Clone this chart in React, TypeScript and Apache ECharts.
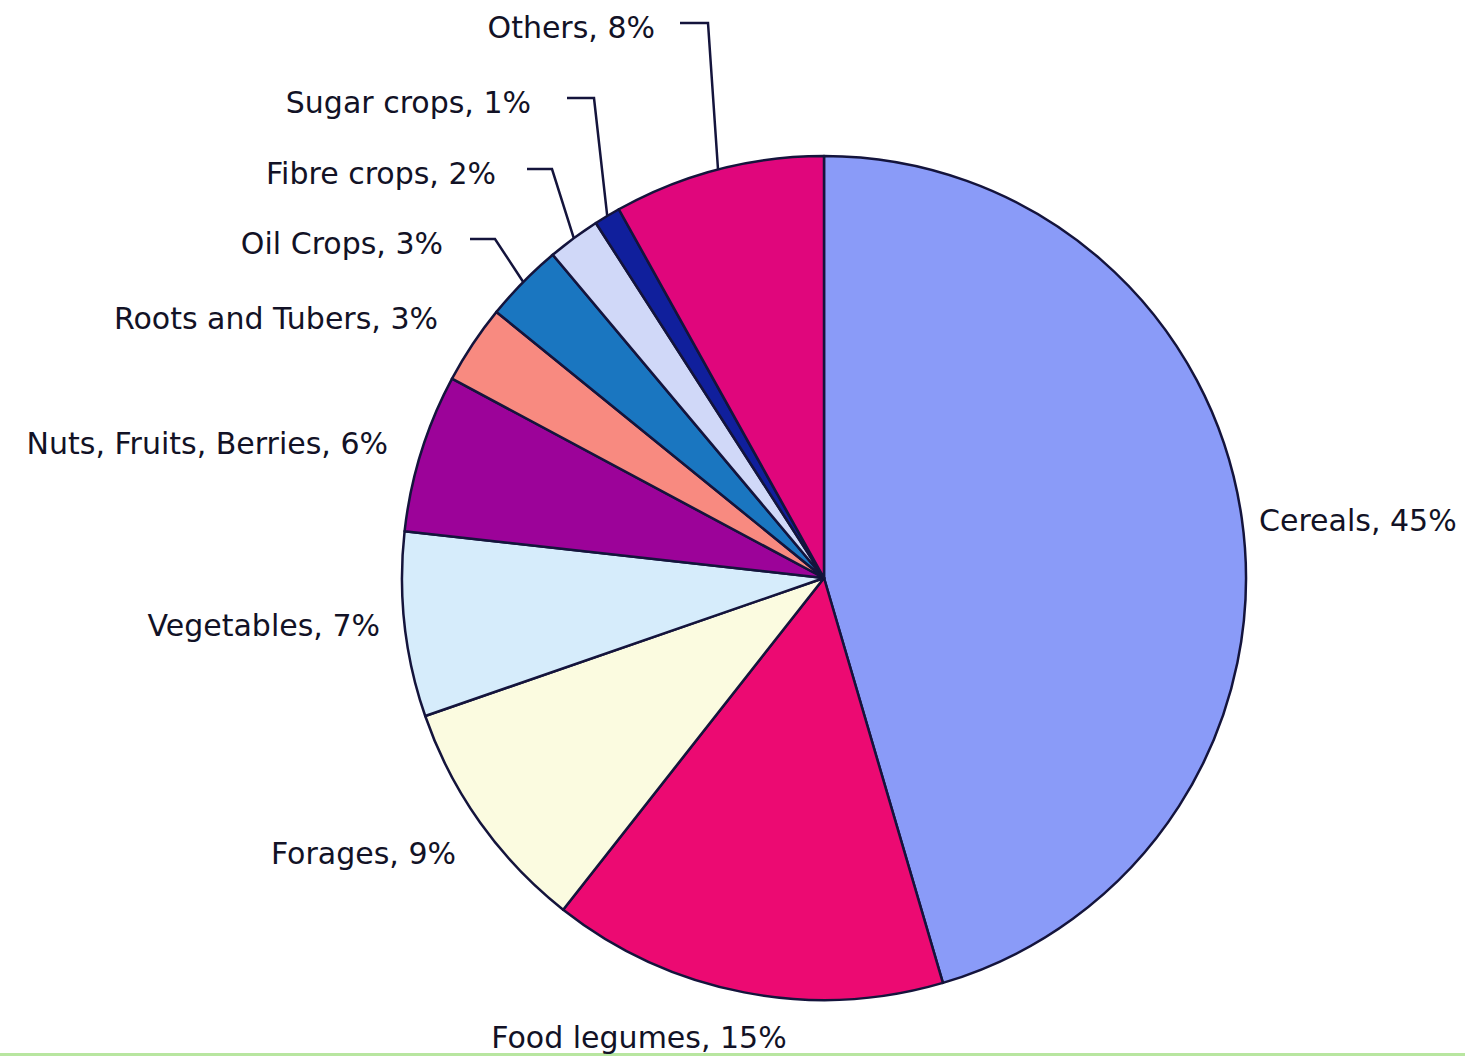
import React, { useEffect, useRef } from "react";
import * as echarts from "echarts";

const categories = [
  "Cereals",
  "Food legumes",
  "Forages",
  "Vegetables",
  "Nuts, Fruits, Berries",
  "Roots and Tubers",
  "Oil Crops",
  "Fibre crops",
  "Sugar crops",
  "Others",
];
const values = [45, 15, 9, 7, 6, 3, 3, 2, 1, 8];

const colors = [
  "#8a9bf8",
  "#ec0a72",
  "#fbfbe0",
  "#d6ecfb",
  "#9c0399",
  "#f88a80",
  "#1a76c0",
  "#d0d8f8",
  "#101f9c",
  "#e0067c",
];

// label layout (pixel positions): anchor x, center y, align, elbow x, line end x
const labelLayouts: Array<{ x: number; y: number; align: "left" | "right" | "center"; elbow?: number; lineEnd?: number }> = [
  { x: 1259, y: 520, align: "left" },
  { x: 639, y: 1037, align: "center" },
  { x: 456, y: 853, align: "right" },
  { x: 380, y: 625, align: "right" },
  { x: 388, y: 443, align: "right" },
  { x: 438, y: 318, align: "right" },
  { x: 443, y: 243, align: "right", elbow: 495, lineEnd: 470 },
  { x: 496, y: 173, align: "right", elbow: 552, lineEnd: 527 },
  { x: 531, y: 102, align: "right", elbow: 594, lineEnd: 567 },
  { x: 655, y: 27, align: "right", elbow: 708, lineEnd: 680 },
];

export default function App() {
  const ref = useRef<HTMLDivElement>(null);
  useEffect(() => {
    document.body.style.margin = "0";
    if (!ref.current) return;
    const chart = echarts.init(ref.current, undefined, { renderer: "svg" });
    const data = categories.map((name, i) => ({
      name,
      value: values[i],
      itemStyle: { color: colors[i] },
      labelLine: { show: labelLayouts[i].elbow !== undefined },
    }));
    chart.setOption({
      animation: false,
      backgroundColor: "#ffffff",
      graphic: [
        {
          type: "rect",
          shape: { x: 0, y: 1053, width: 1465, height: 3 },
          style: { fill: "#b8e6a0" },
          silent: true,
        },
      ],
      series: [
        {
          type: "pie",
          center: [824, 578],
          radius: 422,
          startAngle: 90,
          clockwise: true,
          avoidLabelOverlap: false,
          data,
          itemStyle: { borderColor: "#14143c", borderWidth: 2.5 },
          label: {
            show: true,
            position: "outside",
            formatter: "{b}, {c}%",
            fontFamily: "DejaVu Sans",
            fontSize: 30,
            color: "#121226",
          },
          labelLine: {
            show: true,
            length: 20,
            length2: 20,
            lineStyle: { color: "#14143c", width: 2.5 },
          },
          emphasis: { disabled: true },
          labelLayout: (params: any) => {
            const L = labelLayouts[params.dataIndex];
            const out: any = {
              x: L.x,
              y: L.y,
              align: L.align,
              verticalAlign: "middle",
            };
            if (L.elbow !== undefined && params.labelLinePoints) {
              const start = params.labelLinePoints[0];
              const ly = L.y - 4;
              out.labelLinePoints = [start, [L.elbow, ly], [L.lineEnd, ly]];
            }
            return out;
          },
        },
      ],
    });
    return () => chart.dispose();
  }, []);
  return <div ref={ref} style={{ width: 1465, height: 1056 }} />;
}
